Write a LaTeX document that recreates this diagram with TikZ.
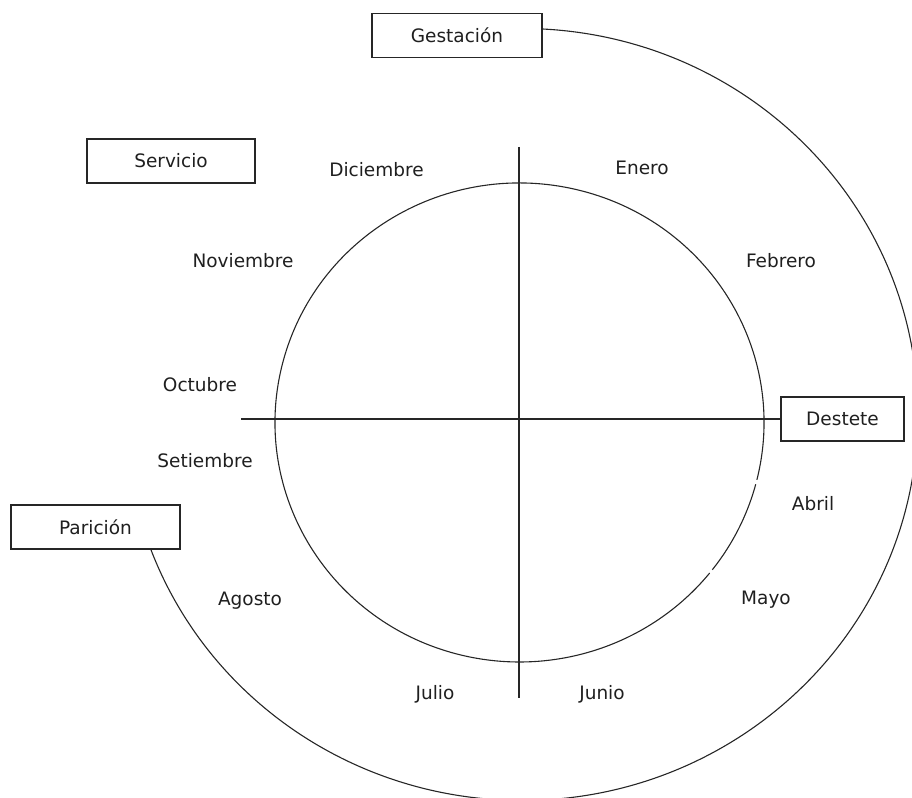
\documentclass[tikz,border=0pt]{standalone}
\usepackage{fontspec}
\setmainfont{DejaVu Sans}
\begin{document}
\begin{tikzpicture}[x=1pt,y=1pt,
  every node/.style={font=\fontsize{18.5}{22}\selectfont, text=black!88},
  lbl/.style={anchor=base, inner sep=0pt},
  stagebox/.style={draw=black!85, line width=1.1pt, inner sep=0pt, minimum height=44pt},
  ln/.style={draw=black!85, line width=1.1pt}]
\useasboundingbox (0,0) rectangle (912,797);
\clip (0,0) rectangle (912,797);
% stage boxes
\node[stagebox, minimum width=170pt] (gest) at (457,761.5) {Gestación};
\node[stagebox, minimum width=168pt] (serv) at (171,636) {Servicio};
\node[stagebox, minimum width=123pt] (dest) at (842.5,378) {Destete};
\node[stagebox, minimum width=169pt] (pari) at (95.5,270) {Parición};
% month labels
\node[lbl] (ene) at (642,622) {Enero};
\node[lbl] (feb) at (781,529) {Febrero};
\node[lbl] (abr) at (813,286) {Abril};
\node[lbl] (may) at (766,192) {Mayo};
\node[lbl] (jun) at (602,97) {Junio};
\node[lbl] (jul) at (435,97) {Julio};
\node[lbl] (ago) at (250,191) {Agosto};
\node[lbl] (set) at (205,329) {Setiembre};
\node[lbl] (oct) at (200,405) {Octubre};
\node[lbl] (nov) at (243,529) {Noviembre};
\node[lbl] (dic) at (376.5,620) {Diciembre};
% inner circle (with two small breaks)
\coordinate (ic) at (519.5,374.5);
\draw[ln] ([shift={(-13.85:244.5pt and 239.5pt)}]ic) arc[start angle=-13.85, end angle=321.05, x radius=244.5pt, y radius=239.5pt];
\draw[ln] ([shift={(-37.95:244.5pt and 239.5pt)}]ic) arc[start angle=-37.95, end angle=-14.95, x radius=244.5pt, y radius=239.5pt];
% axes
\coordinate (hl) at (241,378);
\coordinate (vt) at (519,650);
\coordinate (vb) at (519,99);
\draw[ln] (hl) -- (hl -| dest.west);
\draw[ln] (vt) -- (vb);
% outer arc from Gestación to Parición
\draw[ln] ([yshift=6.5pt]gest.east) arc[start angle=87, end angle=-159.6, x radius=396pt, y radius=386pt];
\end{tikzpicture}
\end{document}
